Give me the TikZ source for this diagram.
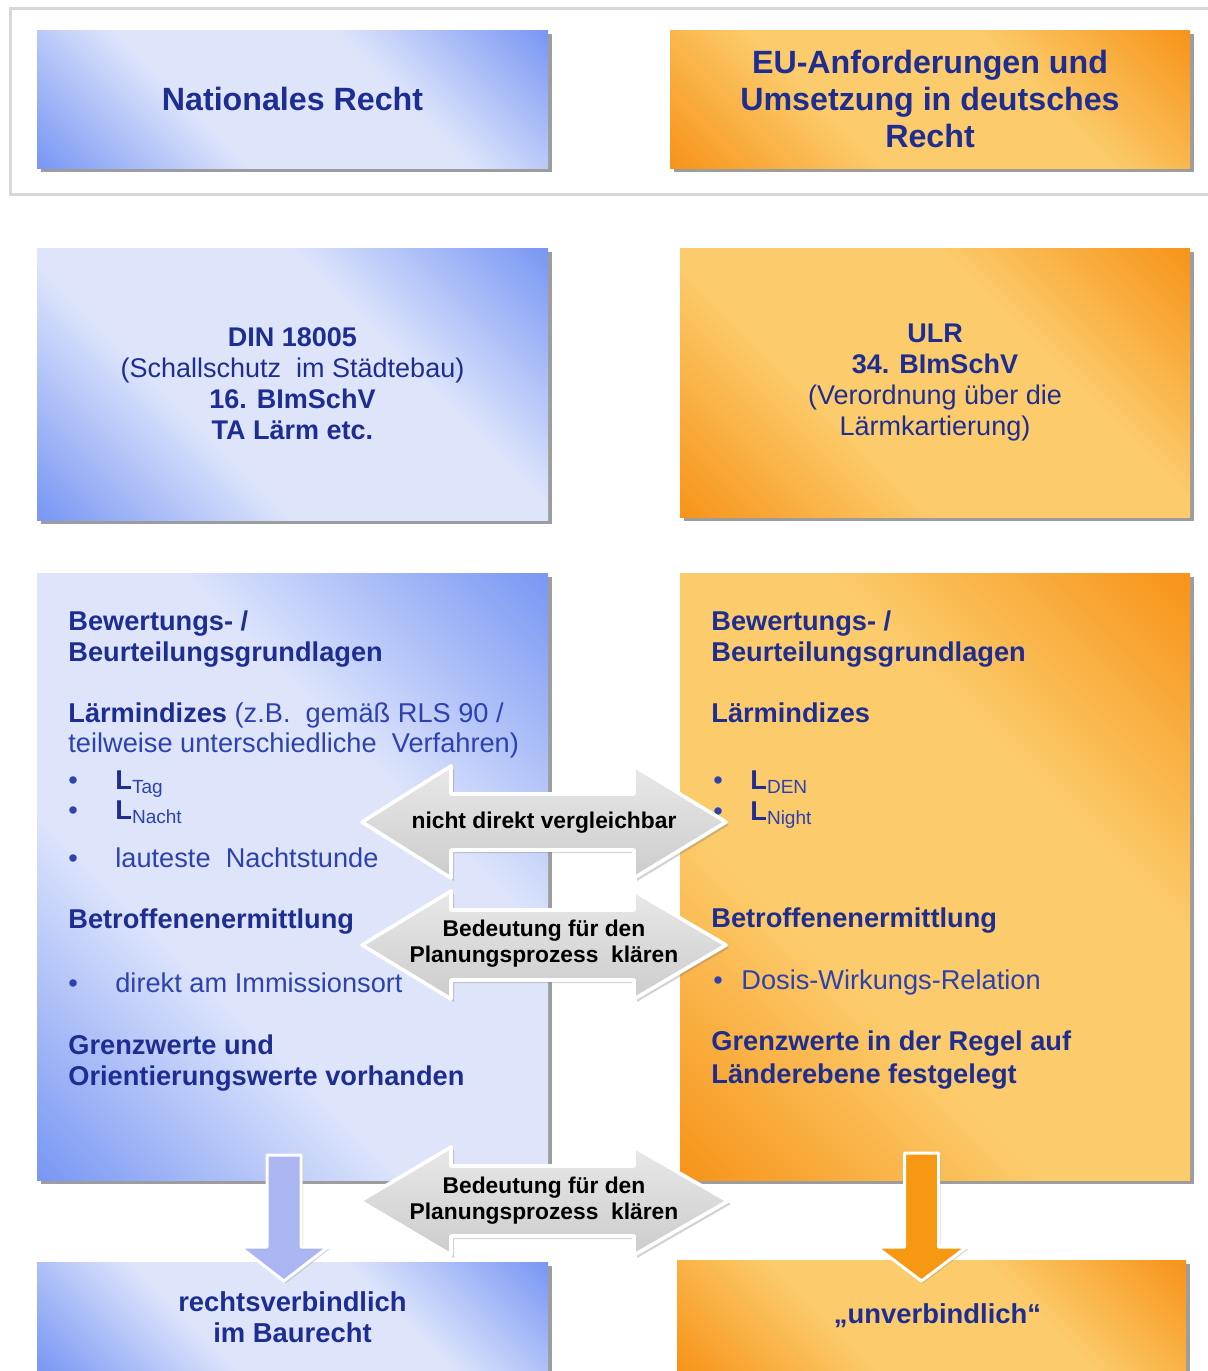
\documentclass[tikz,border=0pt]{standalone}
\usepackage{fontspec}
\setmainfont{Liberation Sans}
\usetikzlibrary{shadows}

\definecolor{bluedeep}{RGB}{122,152,244}
\definecolor{bluelite}{RGB}{222,229,251}
\definecolor{orangedeep}{RGB}{247,148,26}
\definecolor{orangelite}{RGB}{252,204,108}
\definecolor{headblue}{RGB}{30,45,145}
\definecolor{textblue}{RGB}{45,65,175}
\definecolor{downblue}{RGB}{170,181,241}
\definecolor{downorange}{RGB}{247,152,18}
\definecolor{framegray}{RGB}{215,215,215}

\pgfdeclarehorizontalshading{bluediag}{100bp}{color(0bp)=(bluedeep); color(15bp)=(bluedeep); color(38bp)=(bluelite); color(62bp)=(bluelite); color(85bp)=(bluedeep); color(100bp)=(bluedeep)}
\pgfdeclarehorizontalshading{orangediag}{100bp}{color(0bp)=(orangedeep); color(15bp)=(orangedeep); color(38bp)=(orangelite); color(62bp)=(orangelite); color(85bp)=(orangedeep); color(100bp)=(orangedeep)}

\tikzset{
  box/.style={inner sep=0pt, align=center, text=headblue,
    drop shadow={shadow xshift=2pt, shadow yshift=-2pt, opacity=0.55, fill=black!70}},
  bluebox/.style={box, shade, shading=bluediag, shading angle=45},
  orangebox/.style={box, shade, shading=orangediag, shading angle=45},
  head/.style={inner sep=0pt, anchor=base west, text=headblue,
    font=\bfseries\fontsize{13.6}{15.5}\selectfont},
  body/.style={inner sep=0pt, anchor=base west, text=textblue,
    font=\fontsize{13.6}{15.5}\selectfont},
  grayarrow/.style={draw=white, line width=1.8pt, line join=round,
    top color=black!9, bottom color=black!20,
    drop shadow={shadow xshift=1.5pt, shadow yshift=-1.5pt, opacity=0.35}},
  arrowtext/.style={align=center, inner sep=0pt, text=black,
    font=\bfseries\fontsize{11.4}{13}\selectfont},
  downarrow/.style={draw=white, line width=1.5pt, line join=round,
    drop shadow={shadow xshift=1pt, shadow yshift=-1pt, opacity=0.3}}
}

\begin{document}
\begin{tikzpicture}[x=0.5pt, y=-0.5pt]
    \useasboundingbox (0,0) rectangle (1208,1371);

    % frame round the headings
    \draw[framegray, line width=1.5pt] (10,8) rectangle (1240,194);

    % headings
    \node[bluebox, minimum width=255.5pt, minimum height=69pt,
      font=\bfseries\fontsize{16.1}{18.3}\selectfont] (nat) at (292.5,99) {Nationales Recht};
    \node[orangebox, minimum width=260pt, minimum height=69pt,
      font=\bfseries\fontsize{16.1}{18.3}\selectfont] (eu) at (930,99)
      {EU-Anforderungen und\\Umsetzung in deutsches\\Recht};

    % rules
    \node[bluebox, minimum width=255.5pt, minimum height=136pt,
      font=\fontsize{13.5}{15.5}\selectfont] (din) at (292.5,384)
      {\textbf{DIN 18005}\\(Schallschutz \ im Städtebau)\\\textbf{16. BImSchV}\\\textbf{TA Lärm etc.}};
    \node[orangebox, minimum width=255pt, minimum height=134.5pt,
      font=\fontsize{13.5}{15.5}\selectfont] (ulr) at (935,382.5)
      {\textbf{ULR}\\\textbf{34. BImSchV}\\(Verordnung über die\\Lärmkartierung)};

    % assessment boxes
    \node[bluebox, minimum width=255.5pt, minimum height=303.5pt] (bwl) at (292.5,876.5) {};
    \node[orangebox, minimum width=255pt, minimum height=303.5pt] (bwr) at (935,876.5) {};

    % left texts
    \node[head] (ll1) at (68,630) {Bewertungs- /};
    \node[head] (ll2) at (68,661) {Beurteilungsgrundlagen};
    \node[body] (ll3) at (68,722) {{\bfseries\color{headblue}Lärmindizes} (z.B. \ gemäß RLS 90 /};
    \node[body] (ll4) at (68,752) {teilweise unterschiedliche \ Verfahren)};
    \node[body] (ll5) at (68,789) {\makebox[23.5pt][l]{•}{\bfseries\color{headblue}L}\textsubscript{Tag}};
    \node[body] (ll6) at (68,819) {\makebox[23.5pt][l]{•}{\bfseries\color{headblue}L}\textsubscript{Nacht}};
    \node[body] (ll7) at (68,867) {\makebox[23.5pt][l]{•}lauteste \ Nachtstunde};
    \node[head] (ll8) at (68,928) {Betroffenenermittlung};
    \node[body] (ll9) at (68,992) {\makebox[23.5pt][l]{•}direkt am Immissionsort};
    \node[head] (ll10) at (68,1054) {Grenzwerte und};
    \node[head] (ll11) at (68,1085) {Orientierungswerte vorhanden};

    % right texts
    \node[head] (rl1) at (711,630) {Bewertungs- /};
    \node[head] (rl2) at (711,661) {Beurteilungsgrundlagen};
    \node[head] (rl3) at (711,722) {Lärmindizes};
    \node[body] (rl4) at (713,789) {\makebox[18.5pt][l]{•}{\bfseries\color{headblue}L}\textsubscript{DEN}};
    \node[body] (rl5) at (713,820) {\makebox[18.5pt][l]{•}{\bfseries\color{headblue}L}\textsubscript{Night}};
    \node[head] (rl6) at (711,927) {Betroffenenermittlung};
    \node[body] (rl7) at (713,989) {\makebox[14pt][l]{•}Dosis-Wirkungs-Relation};
    \node[head] (rl8) at (711,1050) {Grenzwerte in der Regel auf};
    \node[head] (rl9) at (711,1083) {Länderebene festgelegt};

    % results
    \node[bluebox, minimum width=255.5pt, minimum height=55pt,
      font=\bfseries\fontsize{13.7}{15.5}\selectfont] (rv) at (292.5,1317)
      {rechtsverbindlich\\im Baurecht};
    \node[orangebox, minimum width=254.5pt, minimum height=56pt,
      font=\bfseries\fontsize{13.7}{15.5}\selectfont] (uv) at (931.5,1316)
      {\hspace*{6pt}„unverbindlich“};

    % down arrows
    \draw[downarrow, fill=downblue, shift={(284,1281)}]
      (-17,-126) -- (17,-126) -- (17,-34) -- (44,-34) -- (0,0)
      -- (-44,-34) -- (-17,-34) -- cycle;
    \draw[downarrow, fill=downorange, shift={(921.5,1281)}]
      (-17,-128) -- (17,-128) -- (17,-34) -- (45,-34) -- (0,0)
      -- (-45,-34) -- (-17,-34) -- cycle;

    % double arrows
    \draw[grayarrow, shift={(544,822)}]
      (-182,0) -- (-93,-56) -- (-93,-28) -- (90,-28) -- (90,-56) -- (182,0)
      -- (90,56) -- (90,28) -- (-93,28) -- (-93,56) -- cycle;
    \node[arrowtext] (cmp) at (544,823) {nicht direkt vergleichbar};

    \draw[grayarrow, shift={(544,945)}]
      (-182,0) -- (-93,-54) -- (-93,-35) -- (90,-35) -- (90,-54) -- (182,0)
      -- (90,54) -- (90,35) -- (-93,35) -- (-93,54) -- cycle;
    \node[arrowtext] (plan1) at (544,944) {Bedeutung für den\\Planungsprozess \ klären};

    \draw[grayarrow, shift={(544,1201)}]
      (-184,0) -- (-93,-54) -- (-93,-35) -- (90,-35) -- (90,-54) -- (184,0)
      -- (90,54) -- (90,35) -- (-93,35) -- (-93,54) -- cycle;
    \node[arrowtext] (plan2) at (544,1201) {Bedeutung für den\\Planungsprozess \ klären};

\end{tikzpicture}
\end{document}
